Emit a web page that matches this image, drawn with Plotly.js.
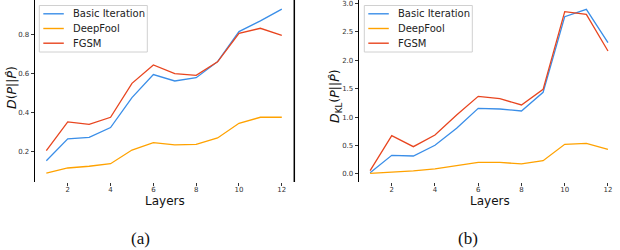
<!DOCTYPE html>
<html>
<head>
<meta charset="utf-8">
<script src="https://cdn.plot.ly/plotly-3.0.1.min.js"></script>
<style>html,body{margin:0;padding:0;background:#fff}#chart{width:620px;height:250px}</style>
</head>
<body>
<div id="chart"></div>
<script>
const layers = [1,2,3,4,5,6,7,8,9,10,11,12];
const seriesNames = ["Basic Iteration", "DeepFool", "FGSM"];
// (a) D(P||P^)
const aBasic = [0.155,0.267,0.275,0.325,0.479,0.597,0.564,0.581,0.663,0.817,0.872,0.932];
const aDeepFool = [0.092,0.118,0.127,0.140,0.210,0.248,0.236,0.239,0.272,0.347,0.378,0.378];
const aFGSM = [0.207,0.354,0.342,0.378,0.552,0.646,0.602,0.593,0.662,0.808,0.834,0.798];
// (b) D_KL(P||P^)
const bBasic = [0.023,0.328,0.316,0.504,0.803,1.154,1.142,1.107,1.435,2.765,2.894,2.308];
const bDeepFool = [0.012,0.030,0.053,0.088,0.153,0.205,0.205,0.176,0.234,0.522,0.539,0.434];
const bFGSM = [0.058,0.673,0.480,0.685,1.037,1.365,1.324,1.213,1.488,2.853,2.806,2.162];
const aTicks = [0.2,0.4,0.6,0.8];
const bTicks = [0,0.5,1,1.5,2,2.5,3];
const xTicks = [2,4,6,8,10,12];

const colors = ["#3a8ee8", "#ffa200", "#e8451f"];
function tr(y, i, xa, ya) {
  return {x: layers, y: y, name: seriesNames[i], mode: "lines", type: "scatter",
    line: {color: colors[i], width: 1.3}, xaxis: xa, yaxis: ya, showlegend: false};
}
const data = [
  tr(aBasic,0,"x","y"), tr(aDeepFool,1,"x","y"), tr(aFGSM,2,"x","y"),
  tr(bBasic,0,"x2","y2"), tr(bDeepFool,1,"x2","y2"), tr(bFGSM,2,"x2","y2")
];
const tickFont = {family: "DejaVu Sans", size: 7, color: "#333"};
const xCommon = {tickvals: xTicks, ticks: "outside", ticklen: 3, tickwidth: 1, tickcolor: "#333",
  showgrid: false, zeroline: false, showline: false, tickfont: tickFont, ticklabelstandoff: -2,
  ticklabeloverflow: "allow"};
const yCommon = {ticks: "outside", ticklen: 3, tickwidth: 1, tickcolor: "#333", showgrid: false,
  zeroline: false, showline: true, linecolor: "#000", linewidth: 1.3, tickfont: tickFont,
  ticklabeloverflow: "allow"};

// hand-drawn legends (matplotlib style: compact rows)
const shapes = [];
const annotations = [];
function px(x) { return x / 620; }
function py(y) { return 1 - y / 250; }
function addLegend(x0) {
  shapes.push({type: "rect", xref: "paper", yref: "paper", x0: px(x0), x1: px(x0 + 108),
    y0: py(52), y1: py(5.5), line: {color: "#d0d0d0", width: 1}, fillcolor: "rgba(255,255,255,0.8)",
    layer: "above"});
  const rows = [13.8, 28.5, 43.2];
  seriesNames.forEach((n, i) => {
    shapes.push({type: "line", xref: "paper", yref: "paper", x0: px(x0 + 4), x1: px(x0 + 24.5),
      y0: py(rows[i]), y1: py(rows[i]), line: {color: colors[i], width: 1.4}, layer: "above"});
    annotations.push({text: n, xref: "paper", yref: "paper", x: px(x0 + 31.5), y: py(rows[i]),
      xanchor: "left", yanchor: "middle", showarrow: false,
      font: {family: "DejaVu Sans", size: 10, color: "#222"}});
  });
}
addLegend(39.3);
addLegend(364.3);
// right spine of panel (a)
shapes.push({type: "line", xref: "paper", yref: "paper", x0: px(294.3), x1: px(294.3),
  y0: py(182), y1: 1, line: {color: "#000", width: 1.5}});

const lab = {family: "DejaVu Sans", size: 12.5, color: "#111"};
annotations.push(
  {text: "<i>D</i>(<i>P</i>||<i>P̂</i>)", xref: "paper", yref: "paper", x: px(11), y: py(88),
    xanchor: "center", yanchor: "middle", textangle: -90, showarrow: false, font: lab},
  {text: "<i>D</i><sub>KL</sub>(<i>P</i>||<i>P̂</i>)", xref: "paper", yref: "paper", x: px(335), y: py(96),
    xanchor: "center", yanchor: "middle", textangle: -90, showarrow: false, font: lab},
  {text: "Layers", xref: "paper", yref: "paper", x: px(165), y: py(201), xanchor: "center", yanchor: "middle",
    showarrow: false, font: {family: "DejaVu Sans", size: 12, color: "#111"}},
  {text: "Layers", xref: "paper", yref: "paper", x: px(490), y: py(201), xanchor: "center", yanchor: "middle",
    showarrow: false, font: {family: "DejaVu Sans", size: 12, color: "#111"}},
  {text: "(a)", xref: "paper", yref: "paper", x: px(140), y: py(238), xanchor: "center", yanchor: "middle",
    showarrow: false, font: {family: "Liberation Serif", size: 17, color: "#111"}},
  {text: "(b)", xref: "paper", yref: "paper", x: px(468), y: py(238), xanchor: "center", yanchor: "middle",
    showarrow: false, font: {family: "Liberation Serif", size: 17, color: "#111"}}
);

const layout = {
  width: 620, height: 250, margin: {l: 0, r: 0, t: 0, b: 0},
  paper_bgcolor: "#fff", plot_bgcolor: "#fff", showlegend: false,
  xaxis: Object.assign({}, xCommon, {domain: [35/620, 294/620], range: [0.47, 12.57], anchor: "y"}),
  yaxis: Object.assign({}, yCommon, {domain: [1-182/250, 1], range: [0.0462, 0.979], tickvals: aTicks,
    tickformat: ".1f", anchor: "x"}),
  xaxis2: Object.assign({}, xCommon, {domain: [359/620, 619/620], range: [0.486, 12.51], anchor: "y2"}),
  yaxis2: Object.assign({}, yCommon, {domain: [1-182/250, 1], range: [-0.141, 3.058], tickvals: bTicks,
    tickformat: ".1f", anchor: "x2"}),
  shapes: shapes,
  annotations: annotations
};
Plotly.newPlot("chart", data, layout, {staticPlot: true, displayModeBar: false});
</script>
</body>
</html>
